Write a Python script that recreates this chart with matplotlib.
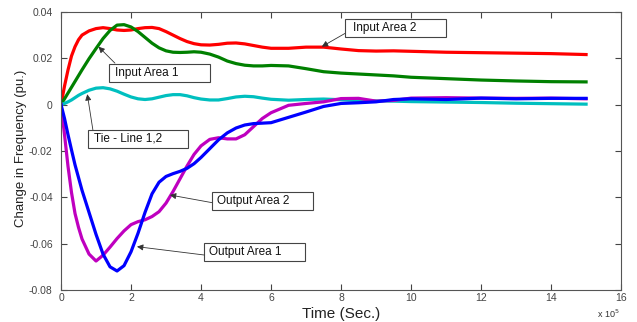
import numpy as np
import matplotlib
matplotlib.use('Agg')
import matplotlib.pyplot as plt
from matplotlib.patches import Rectangle

plt.rcParams['font.family'] = ['Liberation Sans', 'DejaVu Sans']

# time axis (x 10^5 s)
t = [0, 0.1, 0.2, 0.3, 0.4, 0.5, 0.6, 0.8, 1.0, 1.2, 1.4, 1.6, 1.8, 2.0, 2.2, 2.4,
     2.6, 2.8, 3.0, 3.2, 3.4, 3.6, 3.8, 4.0, 4.25, 4.5, 4.75, 5.0, 5.25, 5.5, 5.75,
     6.0, 6.5, 7.0, 7.5, 8.0, 8.5, 9.0, 9.5, 10, 11, 12, 13, 14, 15]

input_area2 = [0, 0.008, 0.015, 0.021, 0.025, 0.028, 0.030, 0.0318, 0.0328, 0.0332,
               0.0328, 0.0322, 0.032, 0.0322, 0.0328, 0.0332, 0.0333, 0.0328, 0.0315,
               0.030, 0.0285, 0.0272, 0.0263, 0.0258, 0.0257, 0.026, 0.0265, 0.0266,
               0.0262, 0.0255, 0.0248, 0.0243, 0.0243, 0.0248, 0.0248, 0.024, 0.0233,
               0.0231, 0.0232, 0.023, 0.0226, 0.0224, 0.0222, 0.022, 0.0216]

input_area1 = [0, 0.0025, 0.005, 0.0075, 0.010, 0.0125, 0.015, 0.0198, 0.0242, 0.0285,
               0.032, 0.0343, 0.0345, 0.0335, 0.0315, 0.029, 0.0265, 0.0245, 0.0232,
               0.0226, 0.0225, 0.0226, 0.0228, 0.0226, 0.0218, 0.0205, 0.0188, 0.0177,
               0.017, 0.0167, 0.0167, 0.0169, 0.0167, 0.0155, 0.0142, 0.0136, 0.0132,
               0.0128, 0.0124, 0.0118, 0.0112, 0.0106, 0.0102, 0.0099, 0.0098]

tie_line = [0, 0.0005, 0.0012, 0.002, 0.003, 0.004, 0.0048, 0.0062, 0.0071, 0.0073,
            0.0068, 0.0058, 0.0045, 0.0033, 0.0025, 0.0022, 0.0025, 0.0032, 0.0039,
            0.0043, 0.0043, 0.0038, 0.003, 0.0024, 0.002, 0.002, 0.0026, 0.0033,
            0.0036, 0.0034, 0.0028, 0.0023, 0.0019, 0.0022, 0.0024, 0.0021, 0.0017,
            0.0016, 0.0015, 0.0013, 0.0011, 0.0009, 0.0006, 0.0004, 0.0002]

output_area1 = [0, -0.006, -0.013, -0.0196, -0.026, -0.0315, -0.037, -0.0465, -0.056,
                -0.0645, -0.0700, -0.0718, -0.0695, -0.0635, -0.0555, -0.0465, -0.0385,
                -0.0335, -0.031, -0.0298, -0.0288, -0.0275, -0.0255, -0.0228, -0.019,
                -0.0152, -0.0122, -0.0101, -0.0088, -0.0082, -0.008, -0.0078, -0.0055,
                -0.0032, -0.0008, 0.0005, 0.0008, 0.0012, 0.0022, 0.0025, 0.0022,
                0.0028, 0.0025, 0.0027, 0.0027]

output_area2 = [0, -0.013, -0.0267, -0.038, -0.047, -0.053, -0.058, -0.0645, -0.0675,
                -0.065, -0.0615, -0.0578, -0.0545, -0.0518, -0.0505, -0.0497, -0.0483,
                -0.0462, -0.0425, -0.0375, -0.032, -0.0265, -0.0215, -0.0178, -0.015,
                -0.0143, -0.0148, -0.0148, -0.013, -0.0095, -0.006, -0.0035, -0.0003,
                0.0005, 0.0012, 0.0026, 0.0027, 0.0015, 0.0018, 0.0028, 0.003, 0.0028,
                0.0027, 0.0028, 0.0025]

fig = plt.figure(figsize=(6.37, 3.22), dpi=100)
ax = fig.add_axes([0.0958, 0.0994, 0.8792, 0.8636])

lw = 2.3
ax.plot(t, input_area2, color='#ff0000', lw=lw)
ax.plot(t, input_area1, color='#008000', lw=lw)
ax.plot(t, tie_line, color='#00bfbf', lw=lw)
ax.plot(t, output_area2, color='#bf00bf', lw=lw)
ax.plot(t, output_area1, color='#0000ff', lw=lw)

ax.set_xlim(0, 16)
ax.set_ylim(-0.08, 0.04)
ax.set_xticks(range(0, 17, 2))
ax.set_yticks([-0.08, -0.06, -0.04, -0.02, 0, 0.02, 0.04])
ax.set_yticklabels(['-0.08', '-0.06', '-0.04', '-0.02', '0', '0.02', '0.04'])
ax.tick_params(direction='in', top=True, right=True, length=4, width=0.8,
               labelsize=7.5, colors='#444444', pad=2)
ax.tick_params(axis='y', pad=6)
for s in ax.spines.values():
    s.set_color('#555555')
    s.set_linewidth(0.8)

ax.set_ylabel('Change in Frequency (pu.)', fontsize=9.5, color='#222222')
ax.yaxis.set_label_coords(-0.06, 0.51)
ax.set_xlabel('Time (Sec.)', fontsize=11, color='#222222', labelpad=3)
fig.text(0.937, 0.012, r'x 10$^5$', fontsize=6.5, color='#333333')

# annotation boxes: (text, box x0, x1, y0, y1, text x, tail, tip)
labels = [
    ('Input Area 2', 8.11, 11.0, 0.0292, 0.0370, 8.35, (8.11, 0.0307), (7.45, 0.0250)),
    ('Input Area 1', 1.37, 4.26, 0.0098, 0.0176, 1.55, (1.54, 0.0179), (1.07, 0.0250)),
    ('Tie - Line 1,2', 0.77, 3.63, -0.0187, -0.0109, 0.95, (0.91, -0.0109), (0.75, 0.0045)),
    ('Output Area 2', 4.31, 7.2, -0.0455, -0.0377, 4.47, (4.31, -0.0423), (3.11, -0.0390)),
    ('Output Area 1', 4.09, 6.97, -0.0675, -0.0597, 4.24, (4.09, -0.0649), (2.17, -0.0613)),
]
for txt, x0, x1, y0, y1, tx, tail, tip in labels:
    ax.add_patch(Rectangle((x0, y0), x1 - x0, y1 - y0, facecolor='white',
                           edgecolor='#444444', lw=0.8, zorder=4))
    ax.text(tx, (y0 + y1) / 2, txt, fontsize=8.5, va='center', ha='left',
            color='#111111', zorder=5)
    ax.annotate('', xy=tip, xytext=tail,
                arrowprops=dict(arrowstyle='-|>', color='#333333', lw=0.6,
                                mutation_scale=9, shrinkA=0, shrinkB=0),
                zorder=5)

fig.savefig('out.png', dpi=100)
plt.close()
